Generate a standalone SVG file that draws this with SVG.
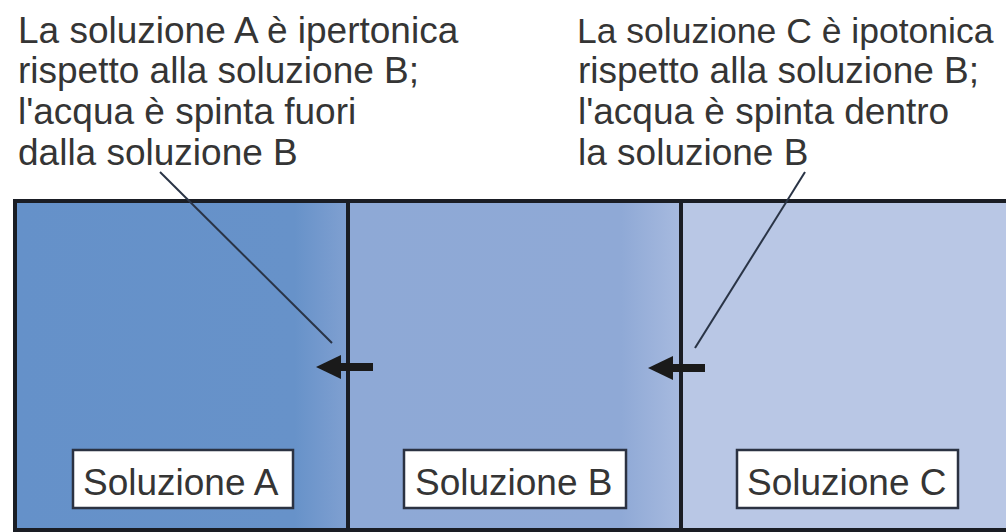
<svg xmlns="http://www.w3.org/2000/svg" width="1006" height="532" viewBox="0 0 1006 532">
<style>
.t{font-family:"Liberation Sans",Arial,sans-serif;font-size:37px;fill:#353535}
.box{fill:#fff;stroke:#2b3242;stroke-width:2.5}
.wall{stroke:#1a1d24;stroke-width:4;fill:none}
.lead{stroke:#2a3446;stroke-width:2;fill:none}
.shaft{stroke:#1a1a1a;stroke-width:8}
.head{fill:#1a1a1a}
</style>
<defs>
<linearGradient id="gA" x1="0" x2="1" y1="0" y2="0">
<stop offset="0" stop-color="#6591c9"/><stop offset="0.84" stop-color="#6792c9"/><stop offset="1" stop-color="#80a0d1"/>
</linearGradient>
<linearGradient id="gB" x1="0" x2="1" y1="0" y2="0">
<stop offset="0" stop-color="#8ea9d6"/><stop offset="0.82" stop-color="#8fa9d6"/><stop offset="1" stop-color="#a7badf"/>
</linearGradient>
</defs>
<rect width="1006" height="532" fill="#fff"/>
<g id="solA">
<rect x="15" y="201" width="333" height="331" fill="url(#gA)"/>
<rect class="box" x="73" y="450" width="220" height="58"/>
<text class="t" x="83" y="495">Soluzione A</text>
</g>
<g id="solB">
<rect x="348" y="201" width="333" height="331" fill="url(#gB)"/>
<rect class="box" x="404" y="450" width="222" height="58"/>
<text class="t" x="415" y="495">Soluzione B</text>
</g>
<g id="solC">
<rect x="681" y="201" width="330" height="331" fill="#b9c7e5"/>
<rect class="box" x="737" y="450" width="221" height="58"/>
<text class="t" x="747" y="495">Soluzione C</text>
</g>
<g id="frame">
<path class="wall" d="M15,532 V201 H1010 M15,530 H1010"/>
<line class="wall" x1="348" y1="201" x2="348" y2="532"/>
<line class="wall" x1="681" y1="201" x2="681" y2="532"/>
</g>
<g id="labelA">
<text class="t" x="18" y="43">La soluzione A è ipertonica</text>
<text class="t" x="18" y="83">rispetto alla soluzione B;</text>
<text class="t" x="18" y="124">l'acqua è spinta fuori</text>
<text class="t" x="18" y="165">dalla soluzione B</text>
</g>
<g id="labelC">
<text class="t" x="577" y="43" style="font-size:35.5px">La soluzione C è ipotonica</text>
<text class="t" x="578" y="83">rispetto alla soluzione B;</text>
<text class="t" x="578" y="124">l'acqua è spinta dentro</text>
<text class="t" x="578" y="165">la soluzione B</text>
</g>
<g id="connectors">
<line class="lead" x1="160" y1="172" x2="332" y2="343"/>
<line class="lead" x1="805" y1="172" x2="695" y2="348"/>
<line class="shaft" x1="336" y1="367" x2="373" y2="367"/>
<polygon class="head" points="316,367 341,355 341,379"/>
<line class="shaft" x1="668" y1="368" x2="705" y2="368"/>
<polygon class="head" points="648,368 673,356 673,380"/>
</g>
</svg>
